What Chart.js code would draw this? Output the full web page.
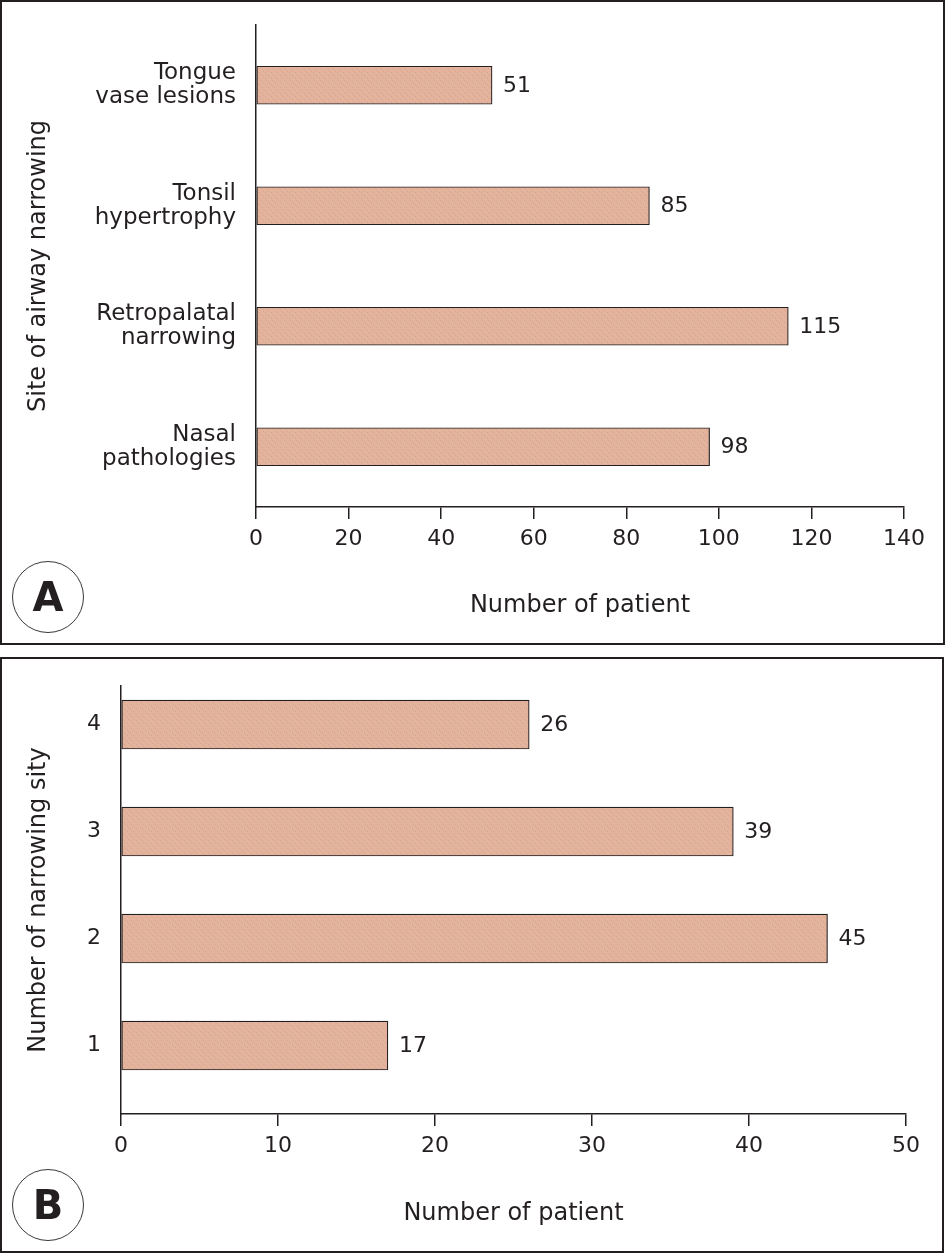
<!DOCTYPE html>
<html>
<head>
<meta charset="utf-8">
<script src="https://cdn.jsdelivr.net/npm/chart.js@4.4.1/dist/chart.umd.min.js"></script>
<style>
  html, body { margin:0; padding:0; background:#fff; }
  body { width:945px; height:1253px; position:relative; overflow:hidden; font-family:"DejaVu Sans", sans-serif; }
  .panel { position:absolute; box-sizing:border-box; border:2px solid #231f20; }
  canvas { position:absolute; left:0; }
  .badge { position:absolute; box-sizing:border-box; width:72px; height:72px; border:1.5px solid #3a3637; border-radius:50%;
           display:flex; align-items:center; justify-content:center; font-family:"DejaVu Sans", sans-serif; font-weight:bold;
           font-size:40px; color:#231f20; }
</style>
</head>
<body>
<div class="panel" style="left:0;top:0;width:945px;height:645px;"></div>
<div class="panel" style="left:0;top:657px;width:944px;height:596px;"></div>
<canvas id="chartA" width="945" height="645" style="top:0;"></canvas>
<canvas id="chartB" width="945" height="596" style="top:657px;"></canvas>
<div class="badge" style="left:12px;top:561px;">A</div>
<div class="badge" style="left:12px;top:1169px;">B</div>
<script>
// ---- Panel A data ----
const sitesA = [["Tongue", "vase lesions"], ["Tonsil", "hypertrophy"], ["Retropalatal", "narrowing"], ["Nasal", "pathologies"]];
const patientsA = [51, 85, 115, 98];
const xTicksA = [0, 20, 40, 60, 80, 100, 120, 140];

// ---- Panel B data ----
const sitesB = [1, 2, 3, 4];
const patientsB = [17, 45, 39, 26];
const xTicksB = [0, 10, 20, 30, 40, 50];
const yTicksB = [1, 2, 3, 4];

const INK = '#231f20';
const FONT = '"DejaVu Sans", sans-serif';

function makePattern() {
  const c = document.createElement('canvas');
  c.width = 6; c.height = 6;
  const g = c.getContext('2d');
  g.fillStyle = '#e4b39c';
  g.fillRect(0, 0, 6, 6);
  g.fillStyle = 'rgba(185,150,175,0.55)';
  [[1,0],[4,3]].forEach(p => g.fillRect(p[0], p[1], 1, 1));
  g.fillStyle = 'rgba(215,160,140,0.7)';
  [[2,2],[5,5]].forEach(p => g.fillRect(p[0], p[1], 1, 1));
  return g.createPattern(c, 'repeat');
}

const valueLabels = {
  id: 'valueLabels',
  afterDatasetsDraw(chart) {
    const ctx = chart.ctx;
    const meta = chart.getDatasetMeta(0);
    const data = chart.data.datasets[0].data;
    ctx.save();
    ctx.font = '22px ' + FONT;
    ctx.fillStyle = INK;
    ctx.textBaseline = 'middle';
    ctx.textAlign = 'left';
    meta.data.forEach((bar, i) => {
      const d = data[i];
      const v = (typeof d === 'object') ? d.x : d;
      ctx.fillText(String(v), bar.x + 11, bar.y + 1);
    });
    ctx.restore();
  }
};

function xScale(min, max, ticks, axisHeight) {
  return {
    type: 'linear', position: 'bottom', min: min, max: max, offset: false,
    afterBuildTicks: s => { s.ticks = ticks.map(v => ({ value: v })); },
    afterFit: s => { s.height = axisHeight; s.paddingLeft = 0; s.paddingRight = 0; },
    grid: { drawOnChartArea: false, drawTicks: true, tickLength: 12, color: INK, lineWidth: 1.5 },
    border: { display: true, color: INK, width: 1.5 },
    ticks: { color: INK, font: { family: FONT, size: 22 }, padding: 7, maxRotation: 0 },
    title: { display: true, text: 'Number of patient', color: INK, font: { family: FONT, size: 24 }, padding: { top: 0, bottom: 25 } }
  };
}

// ---- Chart A ----
new Chart(document.getElementById('chartA'), {
  type: 'bar',
  data: {
    labels: sitesA,
    datasets: [{
      data: patientsA,
      backgroundColor: makePattern(),
      borderColor: INK,
      borderWidth: 1.2,
      borderSkipped: false,
      barThickness: 38
    }]
  },
  options: {
    responsive: false, animation: false, devicePixelRatio: 1,
    indexAxis: 'y',
    layout: { padding: { left: 0, top: 25, right: 41, bottom: 0 } },
    plugins: { legend: { display: false }, tooltip: { enabled: false } },
    scales: {
      x: xScale(0, 140, xTicksA, 138),
      y: {
        type: 'category', position: 'left', offset: true,
        afterFit: s => { s.width = 256; s.paddingTop = 0; s.paddingBottom = 0; },
        grid: { display: false, drawTicks: false },
        border: { display: true, color: INK, width: 1.5 },
        ticks: { color: INK, font: { family: FONT, size: 23, lineHeight: 1.05 }, padding: 20 },
        title: { display: true, text: 'Site of airway narrowing', color: INK, font: { family: FONT, size: 24 }, padding: { top: 24, bottom: 0 } }
      }
    }
  },
  plugins: [valueLabels]
});

// ---- Chart B ----
new Chart(document.getElementById('chartB'), {
  type: 'bar',
  data: {
    datasets: [{
      data: patientsB.map((v, i) => ({ x: v, y: sitesB[i] })),
      backgroundColor: makePattern(),
      borderColor: INK,
      borderWidth: 1.2,
      borderSkipped: false,
      barThickness: 49
    }]
  },
  options: {
    responsive: false, animation: false, devicePixelRatio: 1,
    indexAxis: 'y',
    layout: { padding: { left: 0, top: 29, right: 39, bottom: 0 } },
    plugins: { legend: { display: false }, tooltip: { enabled: false } },
    scales: {
      x: xScale(0, 50, xTicksB, 139),
      y: {
        type: 'linear', position: 'left', min: 0.36, max: 4.36, offset: false,
        afterBuildTicks: s => { s.ticks = yTicksB.map(v => ({ value: v })); },
        afterFit: s => { s.width = 121; s.paddingTop = 0; s.paddingBottom = 0; },
        grid: { display: false, drawTicks: false },
        border: { display: true, color: INK, width: 1.5 },
        ticks: { color: INK, font: { family: FONT, size: 22 }, padding: 20, callback: v => String(v) },
        title: { display: true, text: 'Number of narrowing sity', color: INK, font: { family: FONT, size: 24 }, padding: { top: 24, bottom: 0 } }
      }
    }
  },
  plugins: [valueLabels]
});
</script>
</body>
</html>
